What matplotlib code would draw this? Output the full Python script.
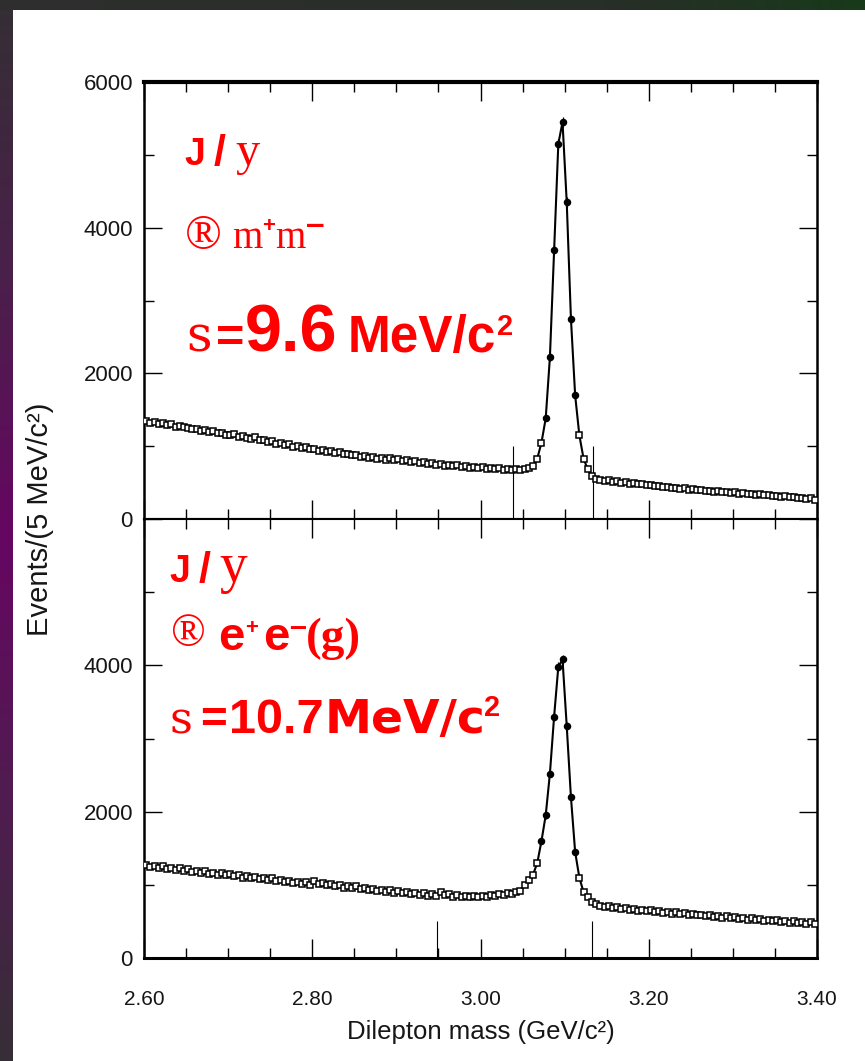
import numpy as np
import matplotlib
matplotlib.use("Agg")
import matplotlib.pyplot as plt
from matplotlib import font_manager
from matplotlib.patches import Rectangle
from matplotlib.ticker import FixedLocator, MultipleLocator

# ---- data (events per 5 MeV bin) ----
mass = np.linspace(2.6025, 3.3975, 160)  # bin centres, GeV/c^2

mumu_counts = [
    1345, 1320, 1338, 1301, 1312, 1290, 1305, 1268, 1282, 1259,
    1250, 1232, 1241, 1208, 1222, 1190, 1203, 1175, 1182, 1160,
    1151, 1165, 1128, 1139, 1110, 1098, 1121, 1082, 1090, 1061,
    1068, 1035, 1042, 1010, 1024, 990, 1003, 975, 982, 958,
    962, 938, 944, 921, 932, 901, 914, 889, 896, 872,
    880, 855, 861, 838, 850, 826, 842, 815, 831, 809,
    822, 798, 806, 784, 792, 770, 781, 758, 766, 748,
    755, 731, 742, 722, 735, 712, 724, 701, 714, 697,
    708, 690, 699, 681, 694, 672, 688, 668, 680, 671,
    683, 700, 730, 830, 1050, 1380, 2220, 3700, 5150, 5450,
    4350, 2750, 1700, 1150, 830, 680, 590, 548, 540, 528,
    531, 512, 520, 498, 505, 487, 494, 475, 481, 463,
    470, 448, 455, 436, 444, 425, 432, 414, 421, 404,
    412, 392, 399, 383, 390, 374, 380, 366, 372, 359,
    364, 350, 355, 340, 347, 332, 338, 325, 330, 318,
    322, 308, 311, 298, 302, 289, 293, 280, 282, 266,
]

ee_counts = [
    1275, 1248, 1262, 1230, 1251, 1218, 1236, 1205, 1224, 1190,
    1212, 1178, 1195, 1160, 1183, 1150, 1168, 1139, 1155, 1128,
    1146, 1115, 1130, 1098, 1121, 1088, 1107, 1076, 1095, 1062,
    1088, 1052, 1070, 1038, 1059, 1026, 1045, 1012, 1034, 1001,
    1049, 1012, 1028, 992, 1015, 978, 998, 962, 985, 951,
    978, 940, 958, 925, 949, 912, 936, 901, 927, 893,
    918, 884, 902, 870, 895, 862, 888, 852, 880, 846,
    905, 862, 872, 838, 860, 832, 851, 828, 846, 835,
    852, 838, 861, 845, 872, 858, 889, 880, 905, 912,
    1000, 1060, 1140, 1300, 1600, 1950, 2520, 3300, 3980, 4080,
    3170, 2200, 1450, 1100, 900, 830, 770, 735, 712, 698,
    705, 684, 692, 668, 680, 655, 671, 648, 662, 640,
    655, 628, 641, 615, 633, 606, 624, 598, 617, 590,
    606, 582, 594, 570, 588, 560, 578, 552, 569, 545,
    560, 532, 548, 522, 541, 515, 533, 508, 526, 501,
    518, 490, 506, 482, 499, 474, 492, 468, 486, 458,
]

# mass window markers (x position, height in events)
mumu_window_x = [3.039, 3.134]
mumu_window_h = 1000
ee_window_x = [2.948, 3.133]
ee_window_h = 500

x_ticks = [2.60, 2.80, 3.00, 3.20, 3.40]
x_tick_labels = ["2.60", "2.80", "3.00", "3.20", "3.40"]
y_ticks = [0, 2000, 4000, 6000]
y_tick_labels_mu = ["0", "2000", "4000", "6000"]
y_tick_labels_ee = ["0", "2000", "4000", ""]

x_label = "Dilepton mass (GeV/c²)"
y_label = "Events/(5 MeV/c²)"

# ---- figure / layout ----
W, H, DPI = 865, 1061, 100
SANS, SERIF = "Liberation Sans", "Liberation Serif"
WIDE, DSERIF = "DejaVu Sans", "DejaVu Serif"
_names = {f.name for f in font_manager.fontManager.ttflist}
NARROW = "Liberation Sans Narrow" if "Liberation Sans Narrow" in _names else SANS
XLABEL_SIZE = 22 if NARROW != SANS else 18.5
RED = "#ff0000"
INK = "#161616"

fig = plt.figure(figsize=(W / DPI, H / DPI), dpi=DPI, facecolor="#2d2d2d")

# slide background: dark frame, purple strip on the left, white page
bg = fig.add_axes([0, 0, 1, 1], zorder=-10)
stops = [0.0, 0.25, 0.5, 0.75, 1.0]
left_cols = np.array([[0x35, 0x2e, 0x35], [0x4a, 0x20, 0x4a], [0x66, 0x06, 0x62],
                      [0x50, 0x1c, 0x50], [0x36, 0x2e, 0x36]]) / 255.0
t = np.linspace(0, 1, 200)
strip = np.stack([np.interp(t, stops, left_cols[:, k]) for k in range(3)], axis=-1)
bg.imshow(strip[:, None, :], extent=(0, 13, H, 10), aspect="auto")
top_stops = [0.0, 0.7, 1.0]
top_cols = np.array([[0x2e, 0x2e, 0x2e], [0x28, 0x2e, 0x28], [0x18, 0x3a, 0x1a]]) / 255.0
top_strip = np.stack([np.interp(t, top_stops, top_cols[:, k]) for k in range(3)], axis=-1)
bg.imshow(top_strip[None, :, :], extent=(0, W, 10, 0), aspect="auto")
bg.add_patch(Rectangle((13, 10), W - 13, H - 10, color="white", lw=0))
bg.set_xlim(0, W)
bg.set_ylim(H, 0)
bg.axis("off")

L, R = 144 / W, 817 / W
y_top, y_mid, y_bot = 82, 519, 958
ax_mu = fig.add_axes([L, 1 - y_mid / H, R - L, (y_mid - y_top) / H])
ax_ee = fig.add_axes([L, 1 - y_bot / H, R - L, (y_bot - y_mid) / H], sharex=ax_mu)


def draw_panel(ax, counts, win_x, win_h, peak=(3.075, 3.115)):
    counts = np.asarray(counts, float)
    in_peak = (mass > peak[0]) & (mass < peak[1])
    ax.plot(mass, counts, color="black", lw=1.5, zorder=3)
    ax.errorbar(mass, counts, yerr=np.sqrt(counts), fmt="none",
                ecolor="black", elinewidth=0.9, zorder=3)
    ax.plot(mass[~in_peak], counts[~in_peak], "s", ms=4.4, mfc="white",
            mec="black", mew=1.1, zorder=4)
    ax.plot(mass[in_peak], counts[in_peak], "o", ms=4.4, color="black", zorder=4)
    ax.vlines(win_x, 0, win_h, color="black", lw=0.8, zorder=2)

    ax.set_xlim(2.6, 3.4)
    ax.set_ylim(0, 6000)
    ax.xaxis.set_major_locator(FixedLocator(x_ticks))
    ax.xaxis.set_minor_locator(MultipleLocator(0.05))
    ax.yaxis.set_major_locator(FixedLocator(y_ticks))
    ax.yaxis.set_minor_locator(MultipleLocator(1000))
    ax.tick_params(which="both", direction="in", top=True, right=True,
                   width=1.0, color="black", labelcolor=INK)
    ax.tick_params(axis="x", which="major", length=14, pad=23, labelsize=15)
    ax.tick_params(axis="x", which="minor", length=7)
    ax.tick_params(axis="y", which="major", length=13, pad=8, labelsize=16)
    ax.tick_params(axis="y", which="minor", length=7)
    for side in ("left", "right"):
        ax.spines[side].set_linewidth(1.8)


draw_panel(ax_mu, mumu_counts, mumu_window_x, mumu_window_h)
draw_panel(ax_ee, ee_counts, ee_window_x, ee_window_h, peak=(3.07, 3.115))

ax_mu.spines["top"].set_linewidth(3.0)
ax_mu.spines["bottom"].set_linewidth(1.5)
ax_ee.spines["top"].set_linewidth(1.5)
ax_ee.spines["bottom"].set_linewidth(2.2)

ax_mu.tick_params(axis="x", labelbottom=False)
ax_mu.set_yticklabels(y_tick_labels_mu, family=SANS)
ax_ee.set_yticklabels(y_tick_labels_ee, family=SANS)
ax_ee.set_xticklabels(x_tick_labels, family=SANS)

ax_ee.set_xlabel(x_label, fontsize=XLABEL_SIZE, family=NARROW, color=INK, labelpad=8)
ax_ee.set_ylabel(y_label, fontsize=21, family=SANS, color=INK)
ax_ee.yaxis.set_label_coords(-0.133, 1.0)

# red slide annotations: (x px, baseline px, text, size, family, weight)
notes = [
    # J/psi -> mu+ mu-
    (184, 165, "J", 27, SANS, "bold"),
    (214, 165, "/", 31, SANS, "bold"),
    (235, 165, "y", 35, SERIF, "normal"),
    (185, 249, "®", 35, SERIF, "normal"),
    (232, 248, "m", 28, SERIF, "normal"),
    (262, 232, "+", 16, SANS, "bold"),
    (275, 248, "m", 28, SERIF, "normal"),
    (306, 234, "–", 24, SANS, "bold"),
    (186, 352, "s", 36, DSERIF, "normal"),
    (216, 352, "=", 35, SANS, "bold"),
    (245, 352, "9.6", 48, SANS, "bold"),
    (348, 352, "MeV/c", 37, SANS, "bold"),
    (497, 335, "2", 21, SANS, "bold"),
    # J/psi -> e+ e- (gamma)
    (169, 582, "J", 27, SANS, "bold"),
    (199, 582, "/", 31, SANS, "bold"),
    (219, 582, "y", 40, SERIF, "normal"),
    (171, 646, "®", 33, SERIF, "normal"),
    (218, 650, "e", 34, SANS, "bold"),
    (245, 634, "+", 16, SANS, "bold"),
    (263, 650, "e", 34, SANS, "bold"),
    (289, 636, "–", 22, SANS, "bold"),
    (306, 650, "(g)", 34, SERIF, "bold"),
    (169, 733, "s", 32, DSERIF, "normal"),
    (200, 733, "=", 33, SANS, "bold"),
    (229, 733, "10.7", 35, SANS, "bold"),
    (325, 733, "MeV/c", 34, WIDE, "bold"),
    (484, 716, "2", 21, SANS, "bold"),
]
for x, y, s, size, fam, wt in notes:
    fig.text(x / W, 1 - y / H, s, fontsize=size, family=fam, weight=wt,
             color=RED, ha="left", va="baseline")

fig.savefig("out.png", dpi=DPI, facecolor=fig.get_facecolor())
